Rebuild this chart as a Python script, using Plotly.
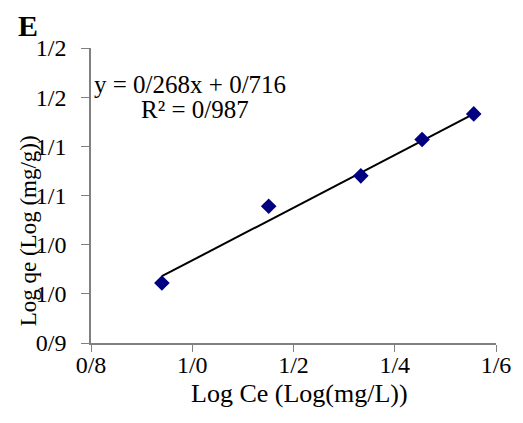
import plotly.graph_objects as go

# Data
log_ce = [0.940, 1.151, 1.333, 1.454, 1.556]
log_qe = [0.961, 1.039, 1.070, 1.107, 1.133]
slope = 0.268
intercept = 0.716

x_tickvals = [0.8, 1.0, 1.2, 1.4, 1.6]
x_ticktext = ["0/8", "1/0", "1/2", "1/4", "1/6"]
y_tickvals = [0.9, 0.95, 1.0, 1.05, 1.1, 1.15, 1.2]
y_ticktext = ["0/9", "1/0", "1/0", "1/1", "1/1", "1/2", "1/2"]

FONT = "Liberation Serif, Times New Roman, serif"

trend_x = [min(log_ce), max(log_ce)]
trend_y = [slope * v + intercept for v in trend_x]

fig = go.Figure()
fig.add_trace(go.Scatter(x=trend_x, y=trend_y, mode="lines",
                         line=dict(color="black", width=2), showlegend=False,
                         hoverinfo="skip"))
fig.add_trace(go.Scatter(x=log_ce, y=log_qe, mode="markers",
                         marker=dict(symbol="diamond", size=12, color="#000080"),
                         showlegend=False))

fig.update_layout(
    width=523, height=423,
    margin=dict(l=91, r=25, t=48, b=80),
    paper_bgcolor="white", plot_bgcolor="white",
    font=dict(family=FONT, size=21, color="black"),
    xaxis=dict(range=[0.8, 1.6], tickvals=x_tickvals, ticktext=x_ticktext,
               showgrid=False, zeroline=False, showline=True, linecolor="#808080",
               linewidth=1.5, ticks="outside", ticklen=7, tickcolor="#808080",
               tickfont=dict(size=24, family=FONT), ticklabelstandoff=-8),
    yaxis=dict(range=[0.9, 1.2], tickvals=y_tickvals, ticktext=y_ticktext,
               showgrid=False, zeroline=False, showline=True, linecolor="#808080",
               linewidth=1.5, ticks="outside", ticklen=8, tickcolor="#808080",
               tickfont=dict(size=24, family=FONT), ticklabelstandoff=10),
    annotations=[
        dict(text="<b>E</b>", xref="paper", yref="paper",
             x=(16 - 91) / 407, y=(343 - 7) / 295, xanchor="left", yanchor="top",
             showarrow=False, font=dict(size=30, family=FONT)),
        dict(text="Log qe (Log (mg/g))", xref="paper", yref="paper",
             x=(28 - 91) / 407, y=(343 - 231) / 295, textangle=-90,
             xanchor="center", yanchor="middle", showarrow=False,
             font=dict(size=23, family=FONT)),
        dict(text="Log Ce (Log(mg/L))", xref="paper", yref="paper",
             x=(301 - 91) / 407, y=(343 - 393) / 295,
             xanchor="center", yanchor="middle", showarrow=False,
             font=dict(size=26, family=FONT)),
        dict(text="y = 0/268x + 0/716", xref="x", yref="y", x=0.995, y=1.163,
             showarrow=False, font=dict(size=25, family=FONT)),
        dict(text="R² = 0/987", xref="x", yref="y", x=1.005, y=1.1375,
             showarrow=False, font=dict(size=25, family=FONT)),
    ],
)

fig.write_html("out.html")
